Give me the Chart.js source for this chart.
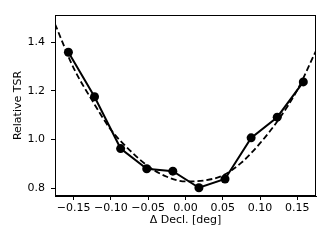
<!DOCTYPE html>
<html>
<head>
<meta charset="utf-8">
<script src="https://cdn.jsdelivr.net/npm/chart.js@4.4.1/dist/chart.umd.min.js"></script>
<style>
  html, body { margin: 0; padding: 0; background: #fff; }
  #wrap { width: 332px; height: 249px; }
</style>
</head>
<body>
<div id="wrap"><canvas id="myChart" width="332" height="249"></canvas></div>
<script>
// measured points
const decl = [-0.157, -0.122, -0.087, -0.052, -0.017, 0.018, 0.053, 0.088, 0.123, 0.158];
const tsr = [1.359, 1.176, 0.963, 0.880, 0.870, 0.802, 0.838, 1.007, 1.092, 1.237];

// dashed fit curve
const fitDecl = [-0.175, -0.15, -0.125, -0.1, -0.075, -0.05, -0.025, 0, 0.025, 0.05, 0.075, 0.1, 0.125, 0.15, 0.175];
const fitTsr = [1.475, 1.294, 1.160, 1.040, 0.957, 0.890, 0.847, 0.828, 0.832, 0.852, 0.905, 0.985, 1.083, 1.204, 1.365];

const xTicks = [-0.15, -0.10, -0.05, 0.00, 0.05, 0.10, 0.15];
const yTicks = [0.8, 1.0, 1.2, 1.4];

const FONT = "'DejaVu Sans', sans-serif";

// box round the plot, like matplotlib spines
const frame = {
  id: 'frame',
  afterDraw(chart) {
    const a = chart.chartArea;
    const c = chart.ctx;
    c.save();
    c.strokeStyle = '#000';
    c.lineWidth = 1;
    c.strokeRect(a.left + 0.5, a.top + 0.5, a.right - a.left - 1, a.bottom - a.top - 1);
    c.restore();
  }
};

const ctx = document.getElementById('myChart');

new Chart(ctx, {
  type: 'line',
  data: {
    datasets: [{
      data: decl.map((x, i) => ({x: x, y: tsr[i]})),
      borderColor: '#000',
      backgroundColor: '#000',
      borderWidth: 2,
      pointRadius: 4.5,
      pointBorderWidth: 0,
      pointBackgroundColor: '#000',
      tension: 0
    }, {
      data: fitDecl.map((x, i) => ({x: x, y: fitTsr[i]})),
      borderColor: '#000',
      borderWidth: 1.8,
      borderDash: [6, 3],
      pointRadius: 0,
      tension: 0.4,
      cubicInterpolationMode: 'monotone'
    }]
  },
  options: {
    responsive: false,
    animation: false,
    layout: { padding: { left: 0, right: 16, top: 15, bottom: 0 } },
    plugins: { legend: false, tooltip: { enabled: false } },
    scales: {
      x: {
        type: 'linear',
        min: -0.175,
        max: 0.175,
        afterFit(scale) { scale.height = 53; },
        afterBuildTicks(scale) { scale.ticks = xTicks.map(v => ({value: v})); },
        grid: { drawOnChartArea: false, drawTicks: true, tickLength: 4, color: '#000' },
        border: { display: true, color: '#000' },
        ticks: {
          color: '#000',
          padding: 2,
          maxRotation: 0,
          autoSkip: false,
          font: { family: FONT, size: 11 },
          callback: v => (v < 0 ? '\u2212' : '') + Math.abs(v).toFixed(2)
        },
        title: {
          display: true,
          text: '\u0394 Decl. [deg]',
          color: '#000',
          font: { family: FONT, size: 11 },
          padding: { top: 0, bottom: 22 }
        }
      },
      y: {
        min: 0.768,
        max: 1.512,
        afterFit(scale) { scale.width = 55; },
        afterBuildTicks(scale) { scale.ticks = yTicks.map(v => ({value: v})); },
        grid: { drawOnChartArea: false, drawTicks: true, tickLength: 4, color: '#000' },
        border: { display: true, color: '#000' },
        ticks: {
          color: '#000',
          padding: 6,
          autoSkip: false,
          font: { family: FONT, size: 11 },
          callback: v => v.toFixed(1)
        },
        title: {
          display: true,
          text: 'Relative TSR',
          color: '#000',
          font: { family: FONT, size: 11 },
          padding: { top: 12, bottom: 0 }
        }
      }
    }
  },
  plugins: [frame]
});
</script>
</body>
</html>
